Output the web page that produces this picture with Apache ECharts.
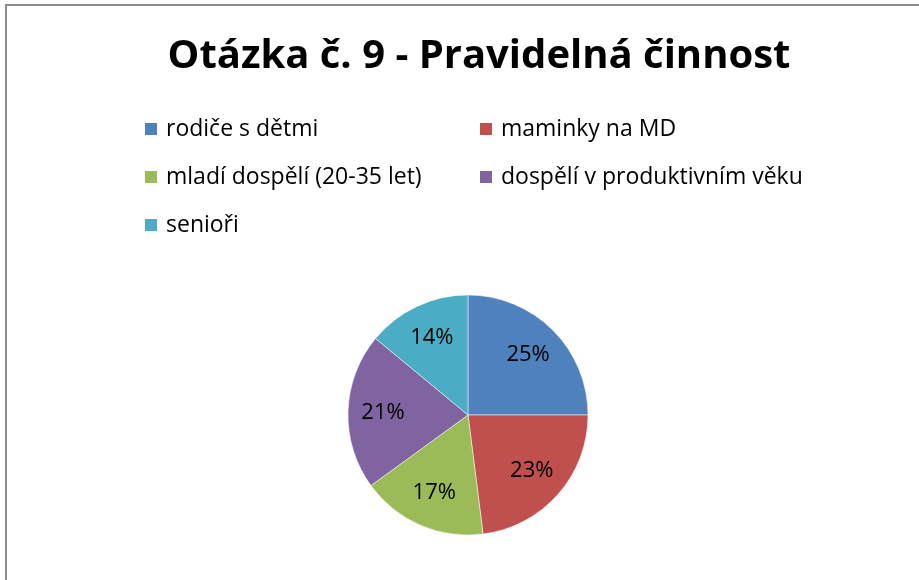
<!DOCTYPE html>
<html>
<head>
<meta charset="utf-8">
<script src="https://cdn.jsdelivr.net/npm/echarts@6/dist/echarts.min.js"></script>
<style>
  html, body { margin: 0; padding: 0; background: #fff; }
  #chart { width: 919px; height: 580px; }
</style>
</head>
<body>
<div id="chart"></div>
<script>
// data
const categories = ['rodiče s dětmi', 'maminky na MD', 'mladí dospělí (20-35 let)', 'dospělí v produktivním věku', 'senioři']
const values = [25, 23, 17, 21, 14]
const colors = ['#4F81BD', '#C0504D', '#9BBB59', '#8064A2', '#4BACC6']

const font = '"Open Sans", Lato, sans-serif'
const pieData = categories.map((name, i) => ({ name: name, value: values[i] }))

const chart = echarts.init(document.getElementById('chart'))

const legendBase = {
  orient: 'vertical',
  icon: 'rect',
  itemWidth: 14,
  itemHeight: 14,
  itemGap: 24,
  textStyle: { fontFamily: font, fontSize: 23, color: '#000', lineHeight: 24, padding: [0, 0, 0, 3] }
}

chart.setOption({
  animation: false,
  color: colors,
  title: {
    text: 'Otázka č. 9 - Pravidelná činnost',
    left: 474,
    top: 32,
    textAlign: 'center',
    textStyle: { fontFamily: font, fontSize: 40, fontWeight: 'bold', color: '#000' }
  },
  graphic: [{
    type: 'rect',
    shape: { x: 6, y: 5, width: 1000, height: 1000 },
    style: { fill: 'none', stroke: '#8c8c8c', lineWidth: 2 },
    silent: true
  }],
  legend: [
    Object.assign({}, legendBase, { left: 138, top: 112, data: [categories[0], categories[2], categories[4]] }),
    Object.assign({}, legendBase, { left: 473, top: 112, data: [categories[1], categories[3]] })
  ],
  series: [
    {
      type: 'pie',
      center: [468, 415],
      radius: 120,
      startAngle: 90,
      clockwise: true,
      label: { show: false },
      labelLine: { show: false },
      itemStyle: { borderColor: '#fff', borderWidth: 0.5 },
      emphasis: { disabled: true },
      data: pieData
    },
    {
      // invisible ring used only to put the % labels at the right distance
      type: 'pie',
      center: [468, 415],
      radius: [0, 164],
      startAngle: 90,
      clockwise: true,
      silent: true,
      itemStyle: { color: 'rgba(0,0,0,0)' },
      label: {
        show: true,
        position: 'inside',
        formatter: '{d}%',
        fontFamily: font,
        fontSize: 22,
        color: '#000'
      },
      labelLine: { show: false },
      emphasis: { disabled: true },
      data: pieData
    }
  ]
})
</script>
</body>
</html>
